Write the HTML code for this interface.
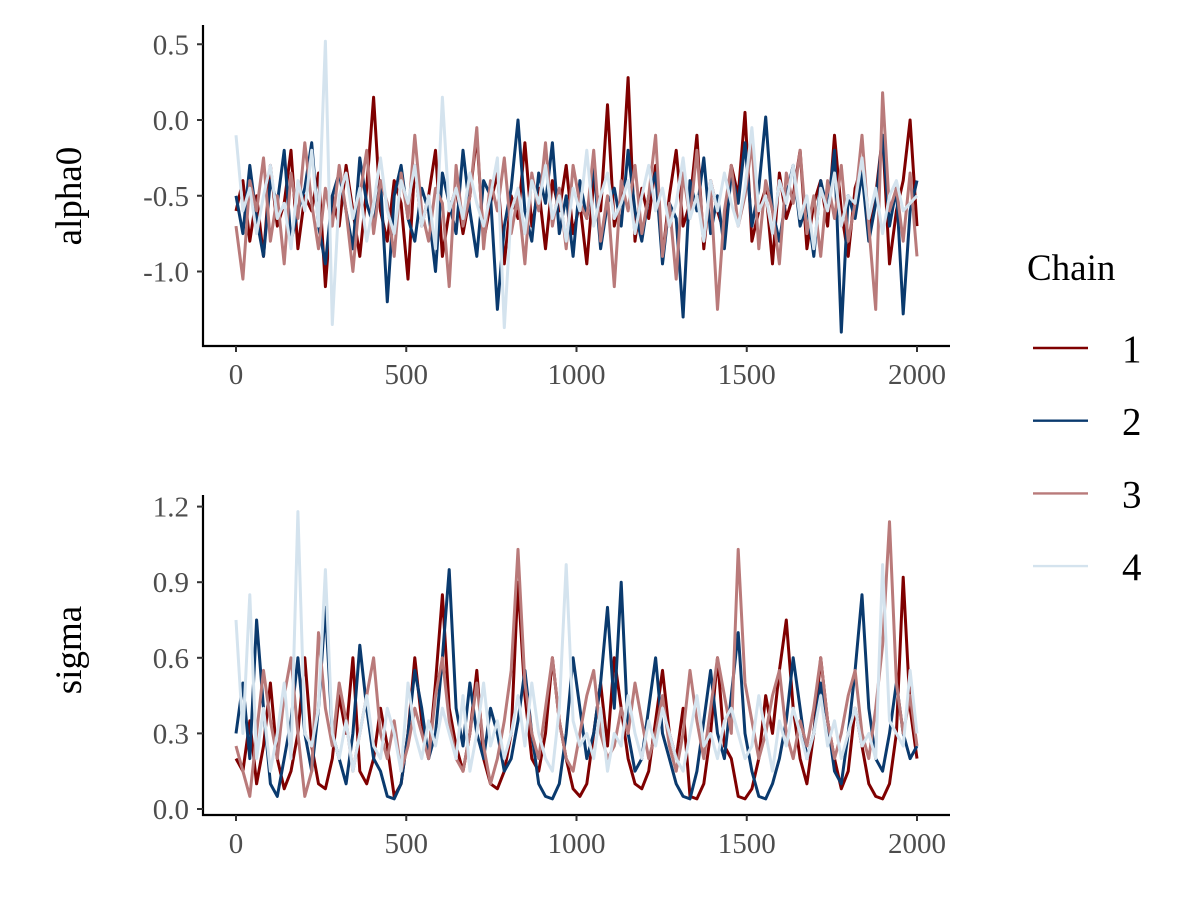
<!DOCTYPE html>
<html><head><meta charset="utf-8">
<style>
html,body{margin:0;padding:0;background:#fff;}
svg{display:block;font-family:"Liberation Serif",serif;}
</style></head>
<body>
<svg id="chart" width="1200" height="900" viewBox="0 0 1200 900" xmlns="http://www.w3.org/2000/svg"></svg>
<script>
const chainNames = ["1","2","3","4"];
const chainColors = ["#7f0000","#0a3a6e","#b97a7a","#d4e3ee"];
const alphaTicks = [0.5,0.0,-0.5,-1.0];
const alphaTickLabels = ["0.5","0.0","-0.5","-1.0"];
const sigmaTicks = [1.2,0.9,0.6,0.3,0.0];
const sigmaTickLabels = ["1.2","0.9","0.6","0.3","0.0"];
const xTicks = [0,500,1000,1500,2000];
const xTickLabels = ["0","500","1000","1500","2000"];
const alpha1 = [-0.6,-0.4,-0.8,-0.5,-0.9,-0.3,-0.7,-0.55,-0.2,-0.85,-0.5,-0.6,-0.35,-1.1,-0.5,-0.7,-0.3,-0.6,-0.9,-0.45,0.15,-0.6,-0.8,-0.4,-0.55,-1.05,-0.3,-0.7,-0.5,-0.2,-0.9,-0.6,-0.45,-0.75,-0.5,-0.1,-0.8,-0.55,-0.35,-0.95,-0.5,-0.65,-0.15,-0.7,-0.45,-0.85,-0.4,-0.6,-0.3,-0.75,-0.55,-0.95,-0.4,-0.6,0.1,-0.7,-0.5,0.28,-0.8,-0.45,-0.65,-0.3,-0.9,-0.5,-0.2,-0.7,-0.55,-0.1,-0.85,-0.4,-0.6,-0.75,-0.3,-0.5,0.05,-0.8,-0.6,-0.45,-0.95,-0.35,-0.65,-0.5,-0.2,-0.85,-0.55,-0.4,-0.7,-0.1,-0.6,-0.9,-0.45,-0.3,-0.75,-0.5,-0.1,-0.95,-0.6,-0.4,0.0,-0.7];
const alpha2 = [-0.5,-0.75,-0.3,-0.65,-0.9,-0.4,-0.55,-0.2,-0.8,-0.6,-0.45,-0.15,-0.7,-0.95,-0.5,-0.35,-0.6,-0.85,-0.25,-0.55,-0.7,-0.4,-1.2,-0.5,-0.3,-0.65,-0.8,-0.45,-0.6,-1.0,-0.35,-0.55,-0.75,-0.2,-0.6,-0.9,-0.4,-0.5,-1.25,-0.7,-0.45,0.0,-0.6,-0.8,-0.35,-0.55,-0.15,-0.75,-0.5,-0.9,-0.4,-0.65,-0.3,-0.85,-0.55,-0.45,-0.7,-0.2,-0.6,-0.8,-0.5,-0.35,-0.95,-0.55,-0.65,-1.3,-0.4,-0.6,-0.25,-0.75,-0.5,-0.85,-0.35,-0.55,-0.15,-0.7,-0.45,0.02,-0.6,-0.8,-0.5,-0.3,-0.7,-0.55,-0.9,-0.4,-0.6,-0.2,-1.4,-0.5,-0.65,-0.35,-0.8,-0.55,-0.1,-0.7,-0.45,-1.28,-0.6,-0.4];
const alpha3 = [-0.7,-1.05,-0.4,-0.6,-0.25,-0.8,-0.5,-0.95,-0.35,-0.65,-0.15,-0.55,-0.85,-0.45,-0.7,-0.3,-0.6,-1.0,-0.5,-0.2,-0.75,-0.4,-0.55,-0.9,-0.35,-0.65,-0.1,-0.6,-0.8,-0.45,-0.55,-1.1,-0.3,-0.7,-0.5,-0.05,-0.85,-0.4,-0.6,-0.25,-0.75,-0.5,-0.95,-0.35,-0.6,-0.15,-0.7,-0.45,-0.85,-0.3,-0.55,-0.65,-0.2,-0.8,-0.5,-1.1,-0.4,-0.6,-0.3,-0.75,-0.5,-0.1,-0.9,-0.55,-1.05,-0.35,-0.65,-0.2,-0.8,-0.45,-1.25,-0.6,-0.3,-0.7,-0.5,-0.15,-0.85,-0.4,-0.6,-0.95,-0.35,-0.55,-0.2,-0.75,-0.5,-0.9,-0.4,-0.65,-0.3,-0.8,-0.55,-0.1,-0.7,-1.25,0.18,-0.6,-0.45,-0.8,-0.35,-0.9];
const alpha4 = [-0.1,-0.6,-0.45,-0.75,-0.5,-0.3,-0.65,-0.55,-0.85,-0.4,-0.6,-0.2,-0.7,0.52,-1.35,-0.5,-0.35,-0.65,-0.45,-0.8,-0.55,-0.25,-0.6,-0.75,-0.4,-0.55,-0.3,-0.7,-0.5,-0.85,0.15,-0.6,-0.45,-0.65,-0.35,-0.55,-0.7,-0.5,-0.25,-1.37,-0.6,-0.45,-0.75,-0.4,-0.55,-0.3,-0.65,-0.5,-0.8,-0.45,-0.6,-0.2,-0.7,-0.5,-0.35,-0.65,-0.55,-0.4,-0.75,-0.5,-0.3,-0.6,-0.45,-0.7,-0.55,-0.25,-0.65,-0.5,-0.8,-0.4,-0.6,-0.35,-0.55,-0.7,-0.45,-0.05,-0.6,-0.5,-0.75,-0.4,-0.55,-0.3,-0.65,-0.5,-0.85,-0.45,-0.6,-0.35,-0.7,-0.5,-0.55,-0.25,-0.65,-0.45,-0.75,-0.5,-0.4,-0.6,-0.55,-0.5];
const sigma1 = [0.2,0.15,0.35,0.1,0.25,0.5,0.2,0.08,0.15,0.3,0.6,0.25,0.1,0.08,0.2,0.45,0.3,0.6,0.15,0.1,0.2,0.4,0.25,0.05,0.1,0.3,0.6,0.35,0.2,0.5,0.85,0.4,0.25,0.15,0.3,0.55,0.2,0.1,0.08,0.15,0.3,0.9,0.45,0.2,0.15,0.3,0.6,0.35,0.2,0.08,0.05,0.1,0.3,0.5,0.25,0.6,0.4,0.2,0.1,0.08,0.15,0.35,0.55,0.3,0.2,0.4,0.05,0.04,0.1,0.3,0.6,0.25,0.2,0.05,0.04,0.08,0.2,0.45,0.3,0.55,0.75,0.4,0.2,0.1,0.3,0.6,0.35,0.2,0.08,0.15,0.4,0.25,0.1,0.05,0.04,0.1,0.3,0.92,0.4,0.2];
const sigma2 = [0.3,0.5,0.2,0.75,0.4,0.1,0.05,0.2,0.35,0.6,0.3,0.15,0.4,0.8,0.3,0.2,0.1,0.3,0.65,0.4,0.2,0.15,0.05,0.04,0.1,0.3,0.55,0.4,0.2,0.3,0.6,0.95,0.4,0.25,0.5,0.3,0.2,0.4,0.3,0.15,0.2,0.35,0.55,0.3,0.1,0.05,0.04,0.1,0.3,0.6,0.4,0.2,0.3,0.5,0.8,0.4,0.9,0.3,0.15,0.2,0.4,0.6,0.3,0.2,0.1,0.05,0.04,0.15,0.35,0.55,0.3,0.2,0.45,0.7,0.3,0.15,0.05,0.04,0.1,0.2,0.35,0.6,0.4,0.2,0.3,0.5,0.35,0.15,0.1,0.3,0.55,0.85,0.4,0.2,0.15,0.3,0.5,0.3,0.2,0.25];
const sigma3 = [0.25,0.15,0.05,0.3,0.55,0.35,0.2,0.45,0.6,0.3,0.05,0.15,0.7,0.4,0.25,0.5,0.35,0.15,0.3,0.45,0.6,0.3,0.2,0.35,0.15,0.25,0.4,0.3,0.2,0.45,0.6,0.35,0.2,0.15,0.3,0.5,0.25,0.1,0.2,0.35,0.55,1.03,0.5,0.3,0.2,0.4,0.6,0.35,0.2,0.15,0.3,0.45,0.55,0.3,0.2,0.25,0.4,0.3,0.5,0.35,0.2,0.3,0.45,0.25,0.15,0.3,0.55,0.35,0.2,0.4,0.6,0.45,0.3,1.03,0.5,0.35,0.2,0.3,0.45,0.55,0.3,0.2,0.35,0.25,0.4,0.6,0.35,0.2,0.3,0.45,0.55,0.3,0.2,0.4,0.65,1.14,0.5,0.3,0.45,0.25];
const sigma4 = [0.75,0.3,0.85,0.2,0.4,0.15,0.3,0.5,0.2,1.18,0.3,0.25,0.4,0.95,0.3,0.2,0.35,0.15,0.3,0.45,0.25,0.2,0.4,0.3,0.15,0.5,0.3,0.2,0.35,0.25,0.4,0.3,0.2,0.45,0.15,0.3,0.5,0.25,0.35,0.2,0.3,0.45,0.25,0.5,0.3,0.2,0.15,0.4,0.97,0.35,0.25,0.3,0.2,0.4,0.15,0.3,0.25,0.45,0.3,0.2,0.35,0.25,0.4,0.3,0.2,0.15,0.3,0.45,0.25,0.3,0.2,0.35,0.4,0.3,0.2,0.25,0.45,0.3,0.15,0.35,0.25,0.4,0.3,0.2,0.3,0.45,0.25,0.35,0.2,0.3,0.4,0.25,0.3,0.2,0.97,0.35,0.3,0.25,0.55,0.3];
const alphaSeries = [alpha1,alpha2,alpha3,alpha4];
const sigmaSeries = [sigma1,sigma2,sigma3,sigma4];
const maxIter = 2000;

const NS = "http://www.w3.org/2000/svg";
const svg = document.getElementById("chart");
function mk(tag, attrs, parent){
  const e = document.createElementNS(NS, tag);
  for (const k in attrs) e.setAttribute(k, attrs[k]);
  (parent||svg).appendChild(e);
  return e;
}
const xScale = v => 236 + v * (917 - 236) / 2000;

function panel(name, title, series, yScale, ticks, tickLabels, axTop, axBottom, titleY){
  const g = mk("g", {});
  
  
  series.forEach((vals, c) => {
    const n = vals.length;
    let d = "";
    vals.forEach((v, i) => {
      const it = i * maxIter / (n - 1);
      d += (i ? "L" : "M") + xScale(it).toFixed(1) + "," + yScale(v).toFixed(1);
    });
    const p = mk("path", {d: d, fill: "none", stroke: chainColors[c], "stroke-width": 3, "stroke-linejoin": "round"}, g);
    
    
  });
  const ya = mk("line", {x1: 203, y1: axTop, x2: 203, y2: axBottom + 1, stroke: "#000", "stroke-width": 2.2}, g);
  
  
  const xa = mk("line", {x1: 202, y1: axBottom, x2: 950, y2: axBottom, stroke: "#000", "stroke-width": 2.2}, g);
  
  
  ticks.forEach((t, i) => {
    const y = yScale(t);
    mk("line", {x1: 197, y1: y, x2: 203, y2: y, stroke: "#333", "stroke-width": 2}, g);
    const tx = mk("text", {x: 189, y: y + 10, "text-anchor": "end", "font-size": 29, fill: "#4d4d4d"}, g);
    tx.textContent = tickLabels[i];
    
    
  });
  xTicks.forEach((t, i) => {
    const x = xScale(t);
    mk("line", {x1: x, y1: axBottom, x2: x, y2: axBottom + 6, stroke: "#333", "stroke-width": 2}, g);
    const tx = mk("text", {x: x, y: axBottom + 38, "text-anchor": "middle", "font-size": 29, fill: "#4d4d4d"}, g);
    tx.textContent = xTickLabels[i];
    
    
  });
  const tt = mk("text", {x: 0, y: 0, transform: "translate(81," + titleY + ") rotate(-90)", "text-anchor": "middle", "font-size": 37, fill: "#000"}, g);
  tt.textContent = title;
  
  
}
panel("alpha0", "alpha0", alphaSeries, v => 120 - v * 151.5, alphaTicks, alphaTickLabels, 25, 346, 196);
panel("sigma", "sigma", sigmaSeries, v => 809 - v * 252, sigmaTicks, sigmaTickLabels, 495, 815, 650);

const lg = mk("g", {});


const lt = mk("text", {x: 1027, y: 280, "font-size": 37, fill: "#000"}, lg);
lt.textContent = "Chain";


chainNames.forEach((nm, i) => {
  const y = 348 + i * 72.7;
  const ln = mk("line", {x1: 1033, y1: y, x2: 1088, y2: y, stroke: chainColors[i], "stroke-width": 2.4}, lg);
  
  
  const t = mk("text", {x: 1122, y: y + 14, "font-size": 39, fill: "#000"}, lg);
  t.textContent = nm;
  
  
});
</script>
</body></html>
